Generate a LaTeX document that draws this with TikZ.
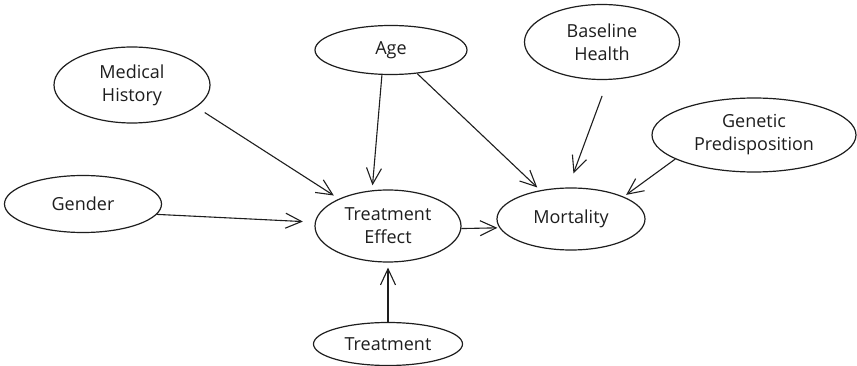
\documentclass[tikz,border=0pt]{standalone}
\usepackage{fontspec}
\setmainfont{Open Sans}
\usetikzlibrary{shapes.geometric,arrows.meta}
\definecolor{ink}{HTML}{1E1E1E}
\begin{document}
\begin{tikzpicture}[x=1pt,y=-1pt,
  var/.style={ellipse,draw=ink,line width=1.2pt,inner sep=0pt,align=center,text=ink,
              font=\fontsize{18}{23}\selectfont},
  link/.style={draw=ink,line width=1.1pt,
               -{Straight Barb[length=16pt,width=15pt,line width=1.1pt]}}]
\useasboundingbox[fill=white] (0,0) rectangle (857,366);
\node[var,minimum width=156pt,minimum height=76pt] (mh) at (132,85) {Medical\\History};
\node[var,minimum width=157pt,minimum height=57pt] (g) at (83,204) {Gender};
\node[var,minimum width=152pt,minimum height=49pt] (age) at (391,50) {Age};
\node[var,minimum width=146pt,minimum height=72pt] (te) at (388,226) {Treatment\\Effect};
\node[var,minimum width=148pt,minimum height=62pt] (mort) at (571,219) {Mortality};
\node[var,minimum width=155pt,minimum height=75pt] (bh) at (602,42) {Baseline\\Health};
\node[var,minimum width=204pt,minimum height=74pt] (gp) at (754,135) {Genetic\\Predisposition};
\node[var,minimum width=149pt,minimum height=43pt] (tr) at (388,344) {Treatment};

\draw[link,shorten <=10pt,shorten >=6pt] (mh.-19) -- (te.151);
\draw[link,shorten >=12pt] (g.-8) -- (te.177);
\draw[link,shorten >=5pt] (age.-110) -- (te.114);
\draw[link,shorten >=4pt] (age.-42) -- (mort.137);
\draw[link,shorten <=17pt,shorten >=15pt] (bh.-81) -- (mort.95);
\draw[link,shorten >=3pt] (gp.-163) -- (mort.23);
\draw[link,shorten >=2pt] (te.-2) -- (mort.-173);
\draw[link,shorten >=5pt] (tr.north) -- (te.south);
\end{tikzpicture}
\end{document}
